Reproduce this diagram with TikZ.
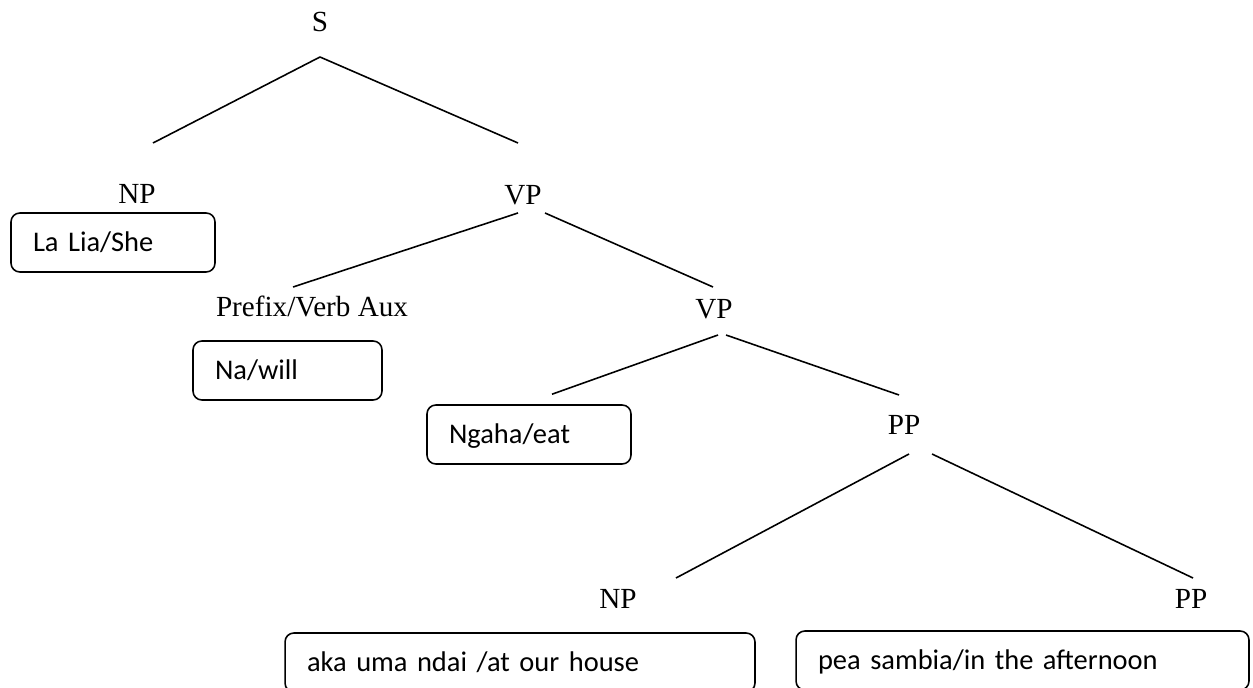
\documentclass[tikz,border=0pt]{standalone}
\usepackage{fontspec}
\setmainfont{Liberation Serif}
\newfontfamily\glossfont{Carlito}
\tikzset{
  cat/.style={
    inner sep=0pt,
    anchor=base,
    font=\fontsize{16.6}{20}\selectfont
  },
  gloss/.style={
    draw,
    rounded corners=5pt,
    line width=0.9pt,
    text width=#1,
    align=left,
    inner xsep=0.44cm,
    inner ysep=0pt,
    text height=0.372cm,
    text depth=0pt,
    minimum height=1.18cm,
    font=\glossfont\fontsize{16.2}{20}\selectfont
  },
  branch/.style={draw,line width=0.9pt}
}

\begin{document}
\begin{tikzpicture}[x=0.02cm,y=-0.02cm]
  \useasboundingbox (0,0) rectangle (1253,688);
  \clip (0,0) rectangle (1253,688);

  \node[cat] (s) at (320,32) {S};
  \node[cat] (np-subj) at (137,204) {NP};
  \node[cat] (vp-top) at (523,205) {VP};
  \node[cat] (aux) at (312,317) {Prefix/Verb Aux};
  \node[cat] (vp-low) at (714,319) {VP};
  \node[cat] (pp-top) at (904,435) {PP};
  \node[cat] (np-loc) at (618,608) {NP};
  \node[cat] (pp-time) at (1191,608) {PP};

  \node[gloss=3.20cm] (lalia) at (113,242.5) {La Lia/She};
  \node[gloss=2.90cm] (nawill) at (287.5,370.5) {Na/will};
  \node[gloss=3.20cm] (ngaha) at (529,434.5) {Ngaha/eat};
  \node[gloss=8.52cm] (akauma) at (520,662.5) {aka uma ndai /at our house};
  \node[gloss=8.18cm] (peasambia) at (1022.5,660.5) {pea sambia/in the afternoon};

  \draw[branch] ([shift={(0,25)}]s.base) -- ([shift={(16,-61)}]np-subj.base);
  \draw[branch] ([shift={(0,25)}]s.base) -- ([shift={(-5,-62)}]vp-top.base);
  \draw[branch] ([shift={(-5,8)}]vp-top.base) -- ([shift={(-19,-30)}]aux.base);
  \draw[branch] ([shift={(22,8)}]vp-top.base) -- ([shift={(-1,-32)}]vp-low.base);
  \draw[branch] ([shift={(4,16)}]vp-low.base) -- ([shift={(23,-10)}]ngaha.north);
  \draw[branch] ([shift={(12,16)}]vp-low.base) -- ([shift={(-5,-40)}]pp-top.base);
  \draw[branch] ([shift={(5,19)}]pp-top.base) -- ([shift={(58,-30)}]np-loc.base);
  \draw[branch] ([shift={(28,19)}]pp-top.base) -- ([shift={(2,-30)}]pp-time.base);
\end{tikzpicture}
\end{document}
